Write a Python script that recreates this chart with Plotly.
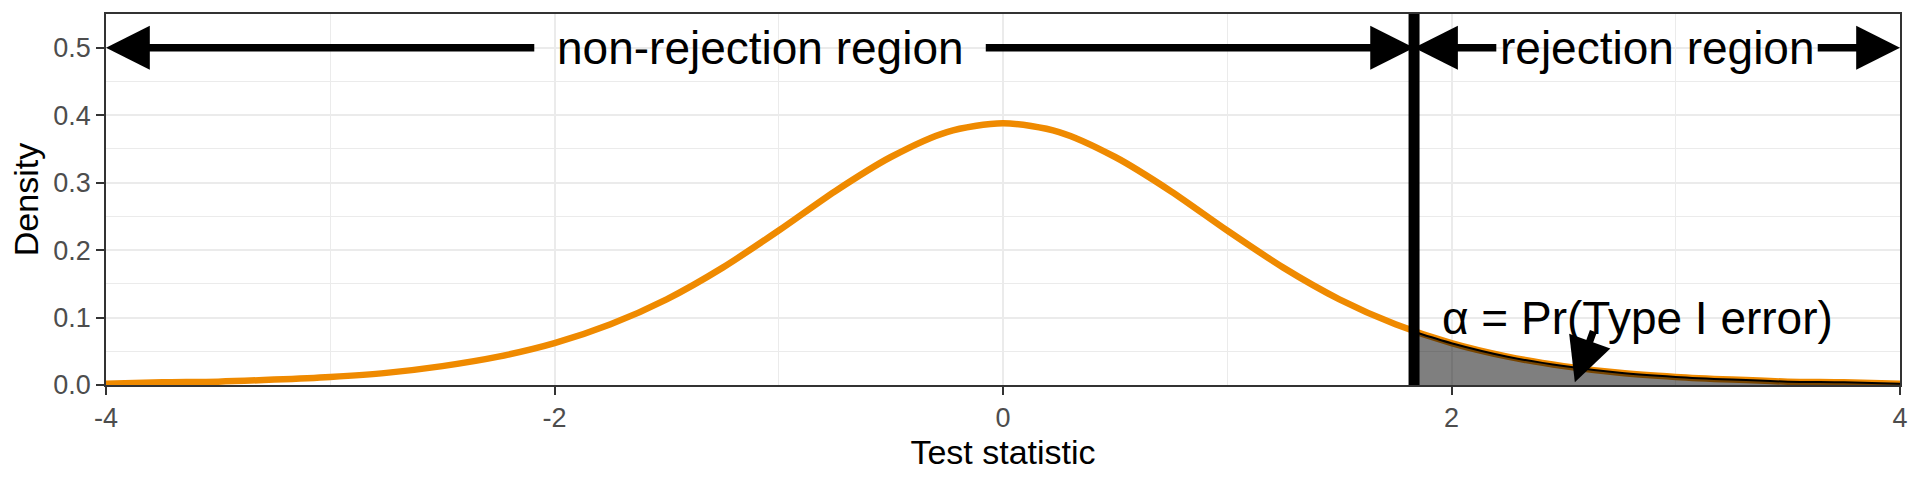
import plotly.graph_objects as go

# t statistic grid and density
stat_x = [-4.0, -3.75, -3.5, -3.25, -3.0, -2.75, -2.5, -2.25, -2.0, -1.75, -1.5, -1.25, -1.0,
          -0.75, -0.5, -0.25, 0.0, 0.25, 0.5, 0.75, 1.0, 1.25, 1.5, 1.75, 2.0, 2.25, 2.5,
          2.75, 3.0, 3.25, 3.5, 3.75, 4.0]
density = [0.002, 0.004, 0.005, 0.008, 0.012, 0.018, 0.028, 0.042, 0.062, 0.090, 0.127, 0.174, 0.229,
           0.287, 0.338, 0.375, 0.388, 0.375, 0.338, 0.287, 0.229, 0.174, 0.127, 0.090, 0.062, 0.042, 0.028,
           0.018, 0.012, 0.008, 0.005, 0.004, 0.002]

crit_value = 1.833
crit_density = 0.079

x_ticks = [-4, -2, 0, 2, 4]
x_tick_labels = ["-4", "-2", "0", "2", "4"]
y_ticks = [0.0, 0.1, 0.2, 0.3, 0.4, 0.5]
y_tick_labels = ["0.0", "0.1", "0.2", "0.3", "0.4", "0.5"]

region_labels = ["non-rejection region", "rejection region"]
alpha_label = "α = Pr(Type I error)"

x_lo, x_hi = -4, 4
arrow_y = 0.5
# half width of the gap the label leaves in each arrow (data units)
label_gaps = [1.0, 0.71]

orange = "#EF8A00"
grid = "#EBEBEB"
dark = "#333333"
font_fam = "Liberation Sans, Arial, sans-serif"

# rejection tail
tail_x = [crit_value] + [x for x in stat_x if x > crit_value]
tail_y = [crit_density] + [d for x, d in zip(stat_x, density) if x > crit_value]

fig = go.Figure()
fig.add_trace(go.Scatter(x=stat_x, y=density, mode="lines",
                         line=dict(color=orange, width=6.5, shape="spline", smoothing=0.8)))
fig.add_trace(go.Scatter(x=tail_x, y=tail_y, mode="lines", fill="tozeroy",
                         fillcolor="rgba(0,0,0,0.5)",
                         line=dict(color="black", width=2, shape="spline", smoothing=0.8)))

fig.add_shape(type="line", x0=crit_value, x1=crit_value, y0=0, y1=1, xref="x", yref="paper",
              line=dict(color="black", width=11), layer="above")

head = dict(showarrow=True, arrowhead=2, arrowsize=1.2, arrowwidth=7.3, arrowcolor="black",
            xref="x", yref="y", axref="x", ayref="y", text="")

annotations = []
spans = [(x_lo, crit_value), (crit_value, x_hi)]
for (a, b), label, gap in zip(spans, region_labels, label_gaps):
    mid = (a + b) / 2
    annotations.append(dict(x=mid, y=arrow_y, text=label, showarrow=False,
                            font=dict(size=46, color="black"), xanchor="center", yanchor="middle"))
    for end, start in [(a, mid - gap), (b, mid + gap)]:
        annotations.append(dict(x=end, y=arrow_y, ax=start, ay=arrow_y, **head))

annotations.append(dict(x=2.83, y=0.1, text=alpha_label, showarrow=False,
                        font=dict(size=46, color="black"), xanchor="center", yanchor="middle"))
annotations.append(dict(x=2.55, y=0.004, ax=2.635, ay=0.082, **head))

fig.update_layout(
    width=1920, height=480,
    margin=dict(l=106, r=15, t=14, b=95),
    plot_bgcolor="white", paper_bgcolor="white",
    showlegend=False,
    font=dict(family=font_fam),
    annotations=annotations,
)
fig.update_xaxes(
    range=[x_lo, x_hi], tickvals=x_ticks, ticktext=x_tick_labels,
    showgrid=True, gridcolor=grid, gridwidth=2, zeroline=False,
    minor=dict(tickvals=[-3, -1, 1, 3], showgrid=True, gridcolor=grid, gridwidth=1),
    showline=True, linecolor=dark, linewidth=1.5, mirror=True,
    ticks="outside", ticklen=8, tickwidth=1.5, tickcolor=dark,
    tickfont=dict(size=27, color="#4D4D4D"),
    title=dict(text="Test statistic", font=dict(size=34, color="black"), standoff=1),
)
fig.update_yaxes(
    range=[0, 0.55], tickvals=y_ticks, ticktext=y_tick_labels,
    showgrid=True, gridcolor=grid, gridwidth=2, zeroline=False,
    minor=dict(tickvals=[0.05, 0.15, 0.25, 0.35, 0.45], showgrid=True, gridcolor=grid, gridwidth=1),
    showline=True, linecolor=dark, linewidth=1.5, mirror=True,
    ticks="outside", ticklen=8, tickwidth=1.5, tickcolor=dark,
    tickfont=dict(size=27, color="#4D4D4D"),
    title=dict(text="Density", font=dict(size=34, color="black"), standoff=4),
)

fig.write_html("out.html", config={"displayModeBar": False},
               post_script="document.body.style.margin='0';")
